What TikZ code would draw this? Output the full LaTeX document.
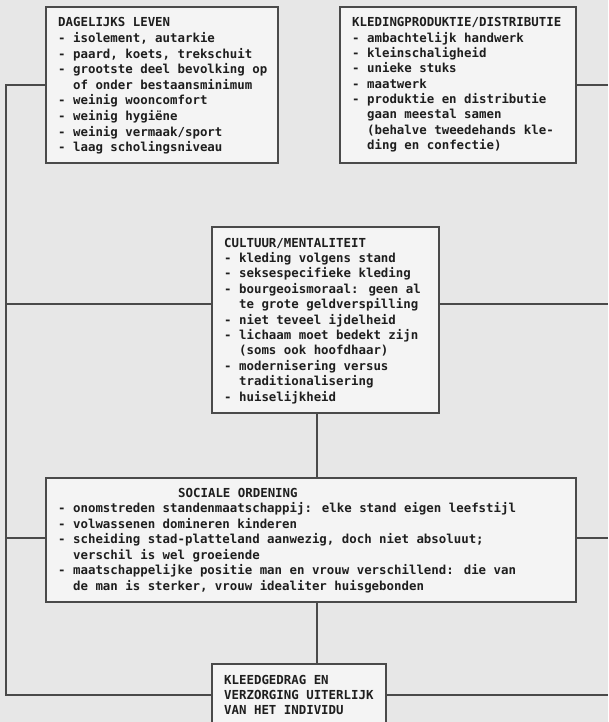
\documentclass[tikz,border=0pt]{standalone}
\usepackage{fontspec}
\newfontfamily\typefont{DejaVu Sans Mono}
\definecolor{bgc}{HTML}{E7E7E7}
\definecolor{boxc}{HTML}{F4F4F4}
\definecolor{linec}{HTML}{4A4A4A}
\definecolor{textc}{HTML}{1E1E1E}
\tikzset{
  box/.style={draw=linec, line width=1.4pt, fill=boxc, inner sep=0pt},
  conn/.style={draw=linec, line width=1.2pt},
  txt/.style={anchor=base west, inner sep=0pt, text=textc,
    font=\typefont\bfseries\fontsize{12.4}{14}\selectfont}
}
\newcommand{\ind}{\hphantom{xx}}
\begin{document}
\begin{tikzpicture}[x=1pt,y=-1pt]
\useasboundingbox (0,0) rectangle (608,722);
\fill[bgc] (0,0) rectangle (608,722);

% free-end coordinates
\coordinate (tl) at (6,85);
\coordinate (bl) at (6,695);
\coordinate (tr) at (608,85);
\coordinate (br) at (608,695);
\coordinate (ml) at (6,304);
\coordinate (mr) at (608,304);
\coordinate (dl) at (6,538);
\coordinate (dr) at (608,538);
\coordinate (vx) at (317,0);

% boxes
\node[box, minimum width=232pt, minimum height=156pt] (A) at (162,85) {};
\node[box, minimum width=236pt, minimum height=156pt] (B) at (458,85) {};
\node[box, minimum width=227pt, minimum height=186pt] (C) at (325.5,320) {};
\node[box, minimum width=530pt, minimum height=124pt] (D) at (311,540) {};
\node[box, minimum width=174pt, minimum height=62pt] (E) at (299,695) {};

% connectors
\draw[conn] (A.west) -- (tl) -- (bl) -- (E.west);
\draw[conn] (B.east) -- (tr);
\draw[conn] (E.east) -- (br);
\draw[conn] (ml) -- (C.west |- ml);
\draw[conn] (C.east |- mr) -- (mr);
\draw[conn] (dl) -- (D.west |- dl);
\draw[conn] (D.east |- dr) -- (dr);
\draw[conn] (C.south -| vx) -- (D.north -| vx);
\draw[conn] (D.south -| vx) -- (E.north -| vx);

% texts box A
\foreach \t [count=\i from 0] in {
  DAGELIJKS LEVEN,
  {- isolement, autarkie},
  {- paard, koets, trekschuit},
  - grootste deel bevolking op,
  \ind of onder bestaansminimum,
  - weinig wooncomfort,
  - weinig hygiëne,
  - weinig vermaak/sport,
  - laag scholingsniveau}
  \node[txt] (a\i) at (58,27+15.6*\i) {\t};

% texts box B
\foreach \t [count=\i from 0] in {
  KLEDINGPRODUKTIE/DISTRIBUTIE,
  - ambachtelijk handwerk,
  - kleinschaligheid,
  - unieke stuks,
  - maatwerk,
  - produktie en distributie,
  \ind gaan meestal samen,
  \ind (behalve tweedehands kle-,
  \ind ding en confectie)}
  \node[txt] (b\i) at (352,27+15.3*\i) {\t};

% texts box C
\foreach \t [count=\i from 0] in {
  CULTUUR/MENTALITEIT,
  - kleding volgens stand,
  - seksespecifieke kleding,
  - bourgeoismoraal: geen al,
  \ind te grote geldverspilling,
  - niet teveel ijdelheid,
  - lichaam moet bedekt zijn,
  \ind (soms ook hoofdhaar),
  - modernisering versus,
  \ind traditionalisering,
  - huiselijkheid}
  \node[txt] (c\i) at (224,247+15.4*\i) {\t};

% texts box D
\node[txt] (d0) at (178,497) {SOCIALE ORDENING};
\foreach \t [count=\i from 1] in {
  - onomstreden standenmaatschappij: elke stand eigen leefstijl,
  - volwassenen domineren kinderen,
  {- scheiding stad-platteland aanwezig, doch niet absoluut;},
  \ind verschil is wel groeiende,
  - maatschappelijke positie man en vrouw verschillend: die van,
  {\ind de man is sterker, vrouw idealiter huisgebonden}}
  \node[txt] (d\i) at (58,497+15.5*\i) {\t};

% texts box E
\foreach \t [count=\i from 0] in {
  KLEEDGEDRAG EN,
  VERZORGING UITERLIJK,
  VAN HET INDIVIDU}
  \node[txt] (e\i) at (224,684+15*\i) {\t};
\end{tikzpicture}
\end{document}
